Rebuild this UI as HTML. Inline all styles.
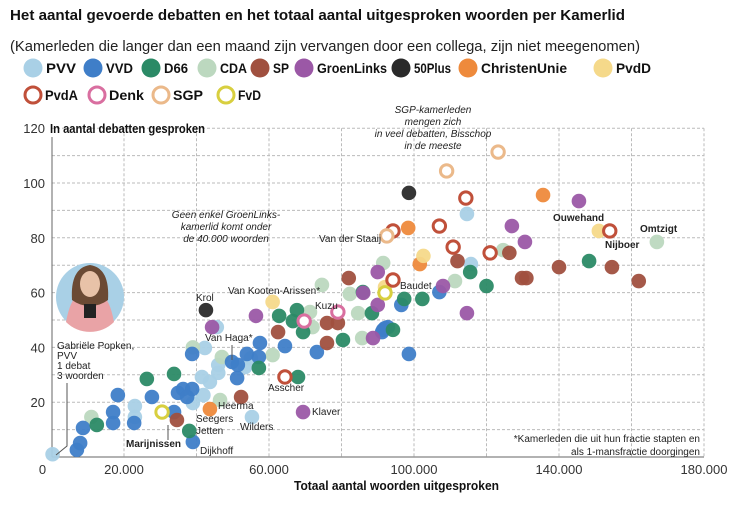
<!DOCTYPE html>
<html><head><meta charset="utf-8"><style>
html,body{margin:0;padding:0;background:#fff;}
svg{display:block;font-family:"Liberation Sans",sans-serif;}
</style></head><body>
<svg id="chart" width="750" height="523" viewBox="0 0 750 523">
<text x="10" y="20" font-size="15" font-weight="bold" fill="#111" textLength="615" lengthAdjust="spacingAndGlyphs">Het aantal gevoerde debatten en het totaal aantal uitgesproken woorden per Kamerlid</text>
<text x="10" y="51" font-size="15" fill="#222" textLength="630" lengthAdjust="spacingAndGlyphs">(Kamerleden die langer dan een maand zijn vervangen door een collega, zijn niet meegenomen)</text>
<g id="legend"></g>
<g id="grid"></g>
<g id="axes"></g>
<g id="photo">
 <circle cx="90" cy="297" r="34" fill="#a9d0e6"/>
 <path d="M66 322 Q70 300 78 295 L102 295 Q110 300 114 322 A34 34 0 0 1 66 322 Z" fill="#e9a3a6"/>
 <path d="M72 300 Q70 268 90 265 Q110 268 108 300 Q100 306 90 306 Q80 306 72 300 Z" fill="#6b4a34"/>
 <ellipse cx="90" cy="284" rx="10" ry="13" fill="#e8c2a8"/>
 <rect x="84" y="304" width="12" height="14" fill="#222"/>
</g>
<g id="marks"></g>
<g id="annotations" font-size="10" fill="#222">
 <text x="57" y="349">Gabriële Popken,</text><text x="57" y="359">PVV</text><text x="57" y="369">1 debat</text><text x="57" y="379">3 woorden</text>
 <polyline points="67,383 67,446 56,455" fill="none" stroke="#555" stroke-width="1"/>
 <text x="226" y="218" font-style="italic" text-anchor="middle">Geen enkel GroenLinks-</text>
 <text x="226" y="230" font-style="italic" text-anchor="middle">kamerlid komt onder</text>
 <text x="226" y="242" font-style="italic" text-anchor="middle">de 40.000 woorden</text>
 <text x="433" y="113" font-style="italic" text-anchor="middle">SGP-kamerleden</text>
 <text x="433" y="125" font-style="italic" text-anchor="middle">mengen zich</text>
 <text x="433" y="137" font-style="italic" text-anchor="middle">in veel debatten, Bisschop</text>
 <text x="433" y="149" font-style="italic" text-anchor="middle">in de meeste</text>
 <text x="319" y="242">Van der Staaij</text>
 <text x="228" y="294">Van Kooten-Arissen*</text>
 <text x="196" y="301">Krol</text>
 <text x="315" y="309">Kuzu</text>
 <text x="205" y="341">Van Haga*</text>
 <line x1="232" y1="345" x2="232" y2="360" stroke="#555"/>
 <text x="400" y="289">Baudet</text>
 <text x="268" y="391">Asscher</text>
 <text x="218" y="409">Heerma</text>
 <text x="196" y="422">Seegers</text>
 <text x="196" y="434">Jetten</text>
 <text x="200" y="454">Dijkhoff</text>
 <text x="240" y="430">Wilders</text>
 <text x="312" y="415">Klaver</text>
 <text x="126" y="447" font-weight="bold">Marijnissen</text>
 <line x1="168" y1="425" x2="168" y2="440" stroke="#555"/>
 <text x="553" y="221" font-weight="bold">Ouwehand</text>
 <text x="640" y="232" font-weight="bold">Omtzigt</text>
 <text x="605" y="248" font-weight="bold">Nijboer</text>
 <text x="700" y="442" text-anchor="end">*Kamerleden die uit hun fractie stapten en</text>
 <text x="700" y="455" text-anchor="end">als 1-mansfractie doorgingen</text>
</g>
<script>
// data arrays (x in thousands of words, y = debates)
const pvvX=[0.3,23,23,42.3,45.6,41.5,43.7,41.9,39,46,46,55.3,53.4,55,114.6,115.7];
const pvvY=[1,18.6,14.6,39.8,47.4,29.2,27.4,22.6,19.7,33.6,30.7,14.6,32.8,36,88.7,70.4];
const vvdX=[7,7.9,8.7,17,17,18.3,22.8,27.7,33.8,34.9,36.3,38.8,37.4,38.8,49.8,51.4,51.2,53.9,57.2,57.5,64.4,73.2,91.5,92.8,107,96.5,98.6,92,91.2,39];
const vvdY=[2.6,5.1,10.6,12.4,16.4,22.6,12.4,21.9,16.4,23.4,24.8,24.8,21.9,37.6,34.7,33.6,28.8,37.6,36.5,41.6,40.5,38.3,46.4,47.4,60.2,55.5,37.6,47,45.6,5.5];
const d66X=[12.5,26.3,33.8,57.2,62.8,66.6,67.7,69.4,80.4,85.9,88.4,148.3,115.5,120,102.3,97.3,94.2,38,68];
const d66Y=[11.7,28.5,30.3,32.5,51.5,49.6,53.6,45.6,42.7,60.2,52.5,71.5,67.5,62.4,57.7,57.7,46.4,9.5,29.2];
const cdaX=[11,39,47,46.5,61,74.6,72,71.3,82.3,84.6,85.7,91.5,167,124.6,111.3];
const cdaY=[14.6,40,36.5,20.8,37.2,62.8,47.4,52.9,59.5,52.5,43.4,70.8,78.5,75.5,64.2];
const spX=[34.6,52.3,62.5,76,79,76,82,126.3,112,140,154.6,162,129.8,131];
const spY=[13.5,21.9,45.6,48.9,48.9,41.6,65.3,74.5,71.5,69.3,69.3,64.2,65.3,65.3];
const glX=[44.3,56.4,69.4,90,86,90,88.7,145.5,127,130.6,108,114.6];
const glY=[47.4,51.5,16.4,67.5,59.9,55.5,43.4,93.4,84.3,78.5,62.4,52.5];
const plusX=[42.6,98.6];
const plusY=[53.6,96.4];
const cuX=[43.7,135.6,98.4,101.6];
const cuY=[17.5,95.6,83.6,70.4];
const pvddX=[61,151,102.6,92];
const pvddY=[56.6,82.5,73.4,62];
const pvdaX=[64.4,114.3,94.2,107,110.8,121,154,94.2];
const pvdaY=[29.2,94.5,82.5,84.3,76.6,74.5,82.5,64.6];
const denkX=[69.7,79];
const denkY=[49.6,52.9];
const sgpX=[123.2,109,92.5];
const sgpY=[111.3,104.4,80.7];
const fvdX=[30.5,92];
const fvdY=[16.4,59.9];
const xTicks=[0,20,60,100,140,180];
const xTickLabels=["0","20.000","60.000","100.000","140.000","180.000"];
const yTicks=[20,40,60,80,100,120];
const legendNames=["PVV","VVD","D66","CDA","SP","GroenLinks","50Plus","ChristenUnie","PvdD","PvdA","Denk","SGP","FvD"];

const NS="http://www.w3.org/2000/svg";
const X0=51.5, XS=3.625, Y0=457, YS=2.74;
function sx(v){return X0+v*XS;}
function sy(v){return Y0-v*YS;}
function mk(tag,attrs,parent){const e=document.createElementNS(NS,tag);for(const k in attrs)e.setAttribute(k,attrs[k]);parent.appendChild(e);return e;}

const grid=document.getElementById('grid');
for(let v=10;v<=120;v+=10){
  const l=mk('line',{x1:52,x2:704,y1:sy(v),y2:sy(v),stroke:'#bbb','stroke-dasharray':'3,2','stroke-width':1},grid);
  
  
}
for(let v=20;v<=180;v+=20){
  const l=mk('line',{x1:sx(v),x2:sx(v),y1:sy(120),y2:Y0,stroke:'#bbb','stroke-dasharray':'3,2','stroke-width':1},grid);
  
  
}
const axes=document.getElementById('axes');
let a=mk('line',{x1:52,x2:52,y1:137,y2:Y0,stroke:'#666','stroke-width':1},axes);


a=mk('line',{x1:52,x2:704,y1:Y0,y2:Y0,stroke:'#666','stroke-width':1},axes);


xTicks.forEach((v,i)=>{
  const t=mk('text',{x:sx(v)-(i===0?9:0),y:474,'font-size':13,fill:'#333','text-anchor':'middle'},axes);
  t.textContent=xTickLabels[i];
  
  
});
yTicks.forEach(v=>{
  const t=mk('text',{x:45,y:sy(v)+5,'font-size':13,fill:'#333','text-anchor':'end'},axes);
  t.textContent=String(v);
  
  
});
let tt=mk('text',{x:50,y:133,'font-size':13,'font-weight':'bold',fill:'#111',textLength:155,lengthAdjust:'spacingAndGlyphs'},axes);
tt.textContent='In aantal debatten gesproken';


tt=mk('text',{x:294,y:490,'font-size':13,'font-weight':'bold',fill:'#111',textLength:205,lengthAdjust:'spacingAndGlyphs'},axes);
tt.textContent='Totaal aantal woorden uitgesproken';



const parties=[
 [pvvX,pvvY,'#a9d0e6',false,'pvv'],[cdaX,cdaY,'#bcd8bf',false,'cda'],[vvdX,vvdY,'#3f7ec8',false,'vvd'],
 [d66X,d66Y,'#2b8a66',false,'d66'],[spX,spY,'#a0503f',false,'sp'],[glX,glY,'#9b58a6',false,'groenlinks'],
 [plusX,plusY,'#2a2a2a',false,'50plus'],[cuX,cuY,'#ee8a3c',false,'christenunie'],[pvddX,pvddY,'#f5d98a',false,'pvdd'],
 [pvdaX,pvdaY,'#c0503a',true,'pvda'],[denkX,denkY,'#d96fa0',true,'denk'],[sgpX,sgpY,'#ebb98a',true,'sgp'],[fvdX,fvdY,'#d8cf3f',true,'fvd']
];
const marks=document.getElementById('marks');
parties.forEach(p=>{
  const [xs,ys,col,ring,name]=p;
  xs.forEach((xv,i)=>{
    const c=ring?mk('circle',{cx:sx(xv),cy:sy(ys[i]),r:6.2,fill:'#fff',stroke:col,'stroke-width':3},marks)
               :mk('circle',{cx:sx(xv),cy:sy(ys[i]),r:7.3,fill:col,'fill-opacity':0.95},marks);
    
    
  });
});

const legend=document.getElementById('legend');
const legPos=[[33,68],[93,68],[151,68],[207,68],[260,68],[304,68],[401,68],[468,68],[603,68],[33,95],[97,95],[161,95],[226,95]];
const legW=[30,27,24,27,16,70,37,86,35,33,35,30,23];
const legCols=['#a9d0e6','#3f7ec8','#2b8a66','#bcd8bf','#a0503f','#9b58a6','#2a2a2a','#ee8a3c','#f5d98a','#c0503a','#d96fa0','#ebb98a','#d8cf3f'];
legendNames.forEach((n,i)=>{
  const [lx,ly]=legPos[i];
  const ring=i>=9;
  const c=ring?mk('circle',{cx:lx,cy:ly,r:8,fill:'#fff',stroke:legCols[i],'stroke-width':3},legend)
             :mk('circle',{cx:lx,cy:ly,r:9.5,fill:legCols[i]},legend);
  
  
  const t=mk('text',{x:lx+(ring?12:13),y:ly+5,'font-size':14,'font-weight':'bold',fill:'#111',textLength:legW[i],lengthAdjust:'spacingAndGlyphs'},legend);
  t.textContent=n;
  
  
});
</script>
</svg>
</body></html>
